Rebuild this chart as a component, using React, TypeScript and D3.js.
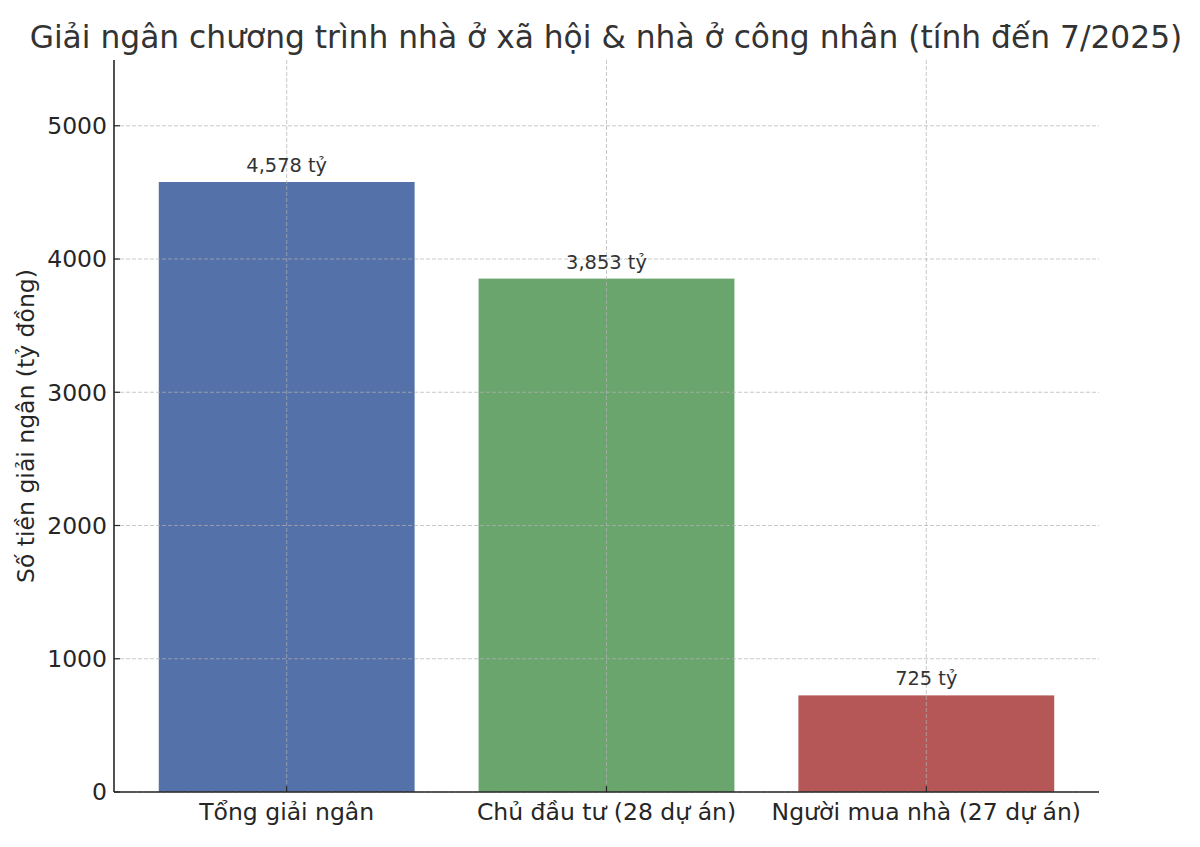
import React from "react";
import * as d3 from "d3";

const categories = ["Tổng giải ngân", "Chủ đầu tư (28 dự án)", "Người mua nhà (27 dự án)"];
const values = [4578, 3853, 725];
const valueLabels = ["4,578 tỷ", "3,853 tỷ", "725 tỷ"];
const colors = ["#5471a9", "#6ba56e", "#b55757"];
const yTicks = [0, 1000, 2000, 3000, 4000, 5000];
const title = "Giải ngân chương trình nhà ở xã hội & nhà ở công nhân (tính đến 7/2025)";
const yLabel = "Số tiền giải ngân (tỷ đồng)";

const W = 1200;
const H = 847;
const left = 114;
const right = 1099;
const top = 60;
const bottom = 792;
const font = "DejaVu Sans, sans-serif";

export default function App() {
  const x = d3.scaleLinear().domain([-0.54, 2.54]).range([left, right]);
  const y = d3.scaleLinear().domain([0, d3.max(values)! * 1.2]).range([bottom, top]);
  const bw = x(0.4) - x(-0.4);
  const textColor = "#262626";
  return (
    <svg width={W} height={H} style={{ position: "absolute", left: 0, top: 0, background: "#fff" }}>
      <text x={606} y={48} textAnchor="middle" fontFamily={font} fontSize={31.3} fill="#333">
        {title}
      </text>
      {values.map((v, i) => (
        <rect key={i} x={x(i) - bw / 2} y={y(v)} width={bw} height={bottom - y(v)} fill={colors[i]} />
      ))}
      {yTicks.map((t) => (
        <line key={"gy" + t} x1={left} x2={right} y1={y(t)} y2={y(t)} stroke="#b0b0b0" strokeOpacity={0.7} strokeDasharray="4,2" strokeWidth={1} />
      ))}
      {categories.map((c, i) => (
        <line key={"gx" + i} x1={x(i)} x2={x(i)} y1={top} y2={bottom} stroke="#b0b0b0" strokeOpacity={0.7} strokeDasharray="4,2" strokeWidth={1} />
      ))}
      <line x1={left} x2={left} y1={top} y2={bottom} stroke={textColor} strokeWidth={1.6} />
      <line x1={left} x2={right} y1={bottom} y2={bottom} stroke={textColor} strokeWidth={1.6} />
      {yTicks.map((t) => (
        <g key={"ty" + t}>
          <line x1={left} x2={left + 6} y1={y(t)} y2={y(t)} stroke={textColor} strokeWidth={1.2} />
          <text x={left - 7} y={y(t)} dy="0.36em" textAnchor="end" fontFamily={font} fontSize={23.5} fill={textColor}>
            {t}
          </text>
        </g>
      ))}
      {categories.map((c, i) => (
        <g key={"tx" + i}>
          <line x1={x(i)} x2={x(i)} y1={bottom} y2={bottom - 6} stroke={textColor} strokeWidth={1.2} />
          <text x={x(i)} y={820} textAnchor="middle" fontFamily={font} fontSize={23.5} fill={textColor}>
            {c}
          </text>
        </g>
      ))}
      {values.map((v, i) => (
        <text key={"vl" + i} x={x(i)} y={y(v) - 10} textAnchor="middle" fontFamily={font} fontSize={19.4} fill="#333">
          {valueLabels[i]}
        </text>
      ))}
      <text transform={`translate(34, ${(top + bottom) / 2}) rotate(-90)`} textAnchor="middle" fontFamily={font} fontSize={23.5} fill={textColor}>
        {yLabel}
      </text>
    </svg>
  );
}
